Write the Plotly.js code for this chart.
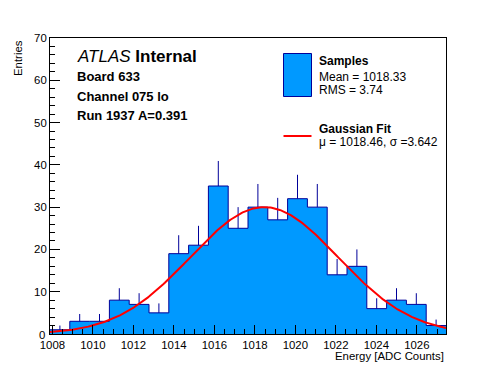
<!DOCTYPE html>
<html>
<head>
<meta charset="utf-8">
<script src="https://cdn.plot.ly/plotly-3.0.1.min.js"></script>
<style>html,body{margin:0;padding:0;background:#fff;}#chart{width:496px;height:372px;}</style>
</head>
<body>
<div id="chart"></div>
<script>
// ---- data ----
const binLow = 1007.88;          // first bin lower edge
const binHigh = 1027.44;         // last bin upper edge
const counts = [1, 3, 3, 8, 7, 5, 19, 21, 35, 25, 30, 27, 32, 30, 14, 16, 6, 8, 7, 2];
const fitMu = 1018.46;
const fitSigma = 3.642;
const fitConst = 30.0;
const xTickVals = [1008, 1010, 1012, 1014, 1016, 1018, 1020, 1022, 1024, 1026];
const yTickVals = [10, 20, 30, 40, 50, 60, 70];
const infoLines = ["Board 633", "Channel 075 lo", "Run 1937 A=0.391"];
const legendSamples = ["Samples", "Mean = 1018.33", "RMS = 3.74"];
const legendFit = ["Gaussian Fit", "\u03bc = 1018.46, \u03c3 =3.642"];

// ---- derived ----
const nBins = counts.length;
const bw = (binHigh - binLow) / nBins;
const edges = [], stepY = [], centers = [], errs = [], zeros = [];
for (let i = 0; i <= nBins; i++) {
  edges.push(binLow + i * bw);
  stepY.push(counts[Math.min(i, nBins - 1)]);
}
for (let i = 0; i < nBins; i++) {
  centers.push(binLow + (i + 0.5) * bw);
  errs.push(Math.sqrt(counts[i]));
  zeros.push(0);
}
const fx = [], fy = [];
const nf = 300;
for (let i = 0; i <= nf; i++) {
  const x = binLow + (binHigh - binLow) * i / nf;
  fx.push(x);
  fy.push(fitConst * Math.exp(-0.5 * Math.pow((x - fitMu) / fitSigma, 2)));
}

const FILL = 'rgb(0,153,255)';
const NAVY = 'rgb(0,0,153)';
const FONT = 'Liberation Sans, Arial, sans-serif';

const traces = [
  {x: edges, y: stepY, type: 'scatter', mode: 'lines', line: {shape: 'hv', color: NAVY, width: 1},
   fill: 'tozeroy', fillcolor: FILL, hoverinfo: 'skip', showlegend: false},
  {x: centers, y: counts, type: 'scatter', mode: 'markers', marker: {size: 1, opacity: 0},
   error_y: {type: 'data', symmetric: false, array: errs, arrayminus: zeros, width: 0, thickness: 1, color: NAVY},
   showlegend: false, hoverinfo: 'skip'},
  {x: fx, y: fy, type: 'scatter', mode: 'lines', line: {color: 'rgb(255,0,0)', width: 2}, showlegend: false, hoverinfo: 'skip'}
];

// pixel helpers (plot area 50..446 x, 38..334 y)
const L = 50, R = 446, T = 38, B = 334;
const px = v => (v - L) / (R - L);
const py = v => (B - v) / (B - T);

const annotations = [
  {xref: 'paper', yref: 'paper', x: px(75), y: py(57), xanchor: 'left', yanchor: 'middle', showarrow: false,
   text: '<i>ATLAS</i> <b>Internal</b>', font: {family: FONT, size: 17, color: 'black'}},
  {xref: 'paper', yref: 'paper', x: 1, y: 0, xanchor: 'right', yanchor: 'top', yshift: -14, showarrow: false,
   text: 'Energy [ADC Counts]', font: {family: FONT, size: 11.4, color: 'black'}},
  {xref: 'paper', yref: 'paper', x: 0, y: 1, xanchor: 'center', yanchor: 'top', xshift: -32, showarrow: false,
   textangle: -90, text: 'Entries', font: {family: FONT, size: 11.4, color: 'black'}},
  {xref: 'paper', yref: 'paper', x: 0, y: 0, xanchor: 'right', yanchor: 'middle', xshift: -3, yshift: -1, showarrow: false,
   text: '0', font: {family: FONT, size: 11.4, color: 'black'}}
];
const infoY = [76, 96, 116];
infoLines.forEach((t, i) => annotations.push({xref: 'paper', yref: 'paper', x: px(75), y: py(infoY[i]),
  xanchor: 'left', yanchor: 'middle', showarrow: false, text: '<b>' + t + '</b>', font: {family: FONT, size: 13, color: 'black'}}));
const sampY = [61, 76.5, 90];
legendSamples.forEach((t, i) => annotations.push({xref: 'paper', yref: 'paper', x: px(317), y: py(sampY[i]),
  xanchor: 'left', yanchor: 'middle', showarrow: false, text: i === 0 ? '<b>' + t + '</b>' : t, font: {family: FONT, size: 12, color: 'black'}}));
const fitY = [129, 141.5];
legendFit.forEach((t, i) => annotations.push({xref: 'paper', yref: 'paper', x: px(317), y: py(fitY[i]),
  xanchor: 'left', yanchor: 'middle', showarrow: false, text: i === 0 ? '<b>' + t + '</b>' : t, font: {family: FONT, size: 12, color: 'black'}}));

const shapes = [
  {type: 'rect', xref: 'paper', yref: 'paper', x0: px(283.5), x1: px(311.5), y0: py(96.5), y1: py(53.5),
   fillcolor: FILL, line: {color: NAVY, width: 1}},
  {type: 'line', xref: 'paper', yref: 'paper', x0: px(283.5), x1: px(311.5), y0: py(136), y1: py(136),
   line: {color: 'rgb(255,0,0)', width: 2}}
];

const layout = {
  width: 496, height: 372,
  margin: {l: L, r: 496 - R, t: T, b: 372 - B, pad: 0},
  paper_bgcolor: 'white', plot_bgcolor: 'white',
  showlegend: false,
  font: {family: FONT, size: 11.4, color: 'black'},
  xaxis: {range: [binLow, binHigh], tickmode: 'array', tickvals: xTickVals, ticktext: xTickVals.map(String),
    ticks: 'inside', ticklen: 9, tickcolor: 'black', tickwidth: 1,
    minor: {dtick: 0.5, tick0: 1008, ticks: 'inside', ticklen: 5, tickcolor: 'black', tickwidth: 1, showgrid: false},
    showgrid: false, zeroline: false, showline: true, linecolor: 'black', linewidth: 1, mirror: true,
    tickfont: {family: FONT, size: 11.4, color: 'black'}},
  yaxis: {range: [0, 70], tickmode: 'array', tickvals: yTickVals, ticktext: yTickVals.map(String),
    ticks: 'inside', ticklen: 10, tickcolor: 'black', tickwidth: 1,
    minor: {dtick: 2, tick0: 0, ticks: 'inside', ticklen: 5, tickcolor: 'black', tickwidth: 1, showgrid: false},
    showgrid: false, zeroline: false, showline: true, linecolor: 'black', linewidth: 1, mirror: true,
    tickfont: {family: FONT, size: 11.4, color: 'black'}},
  annotations: annotations,
  shapes: shapes
};

Plotly.newPlot('chart', traces, layout, {staticPlot: true, displayModeBar: false});
</script>
</body>
</html>
